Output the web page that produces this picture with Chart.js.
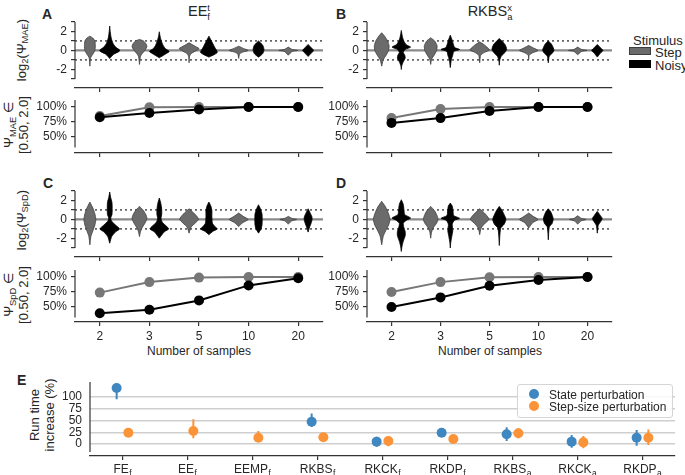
<!DOCTYPE html>
<html>
<head>
<meta charset="utf-8">
<script src="https://cdn.jsdelivr.net/npm/chart.js@4.4.1/dist/chart.umd.min.js"></script>
<style>
body { margin: 0; background: #fff; }
#fig { position: relative; width: 685px; height: 475px; overflow: hidden; font-family: 'Liberation Sans', Arial, sans-serif; color: #262626; }
.box { position: absolute; }
.txt { position: absolute; white-space: nowrap; line-height: 1; }
.rot { position: absolute; white-space: nowrap; transform: translate(-50%, -50%) rotate(-90deg); text-align: center; font-size: 13px; line-height: 1.15; }
.lett { position: absolute; font-weight: bold; font-size: 14px; line-height: 1; }
sub { font-size: 72%; vertical-align: -0.3em; line-height: 0; }
.ss { display: inline-block; font-size: 65%; line-height: 0.95; vertical-align: -0.45em; text-align: left; }
.patch { position: absolute; width: 22px; height: 8px; }
.dot { position: absolute; width: 10px; height: 10px; border-radius: 50%; }
</style>
</head>
<body>
<div id="fig">
  <div class="lett" style="left:42px;top:7px">A</div>
  <div class="lett" style="left:336px;top:7px">B</div>
  <div class="lett" style="left:43px;top:176px">C</div>
  <div class="lett" style="left:336px;top:176px">D</div>
  <div class="lett" style="left:17px;top:373px">E</div>

  <div class="txt" style="left:199px;top:4px;font-size:14.5px;transform:translateX(-50%)">EE<span class="ss">t<br>f</span></div>
  <div class="txt" style="left:490px;top:4px;font-size:14.5px;transform:translateX(-50%)">RKBS<span class="ss">x<br>a</span></div>

  <div class="rot" style="left:22px;top:50px">log<sub>2</sub>(Ψ<sub>MAE</sub>)</div>
  <div class="rot" style="left:17px;top:125px">Ψ<sub>MAE</sub> ∈<br>[0.50, 2.0]</div>
  <div class="rot" style="left:22px;top:220px">log<sub>2</sub>(Ψ<sub>SpD</sub>)</div>
  <div class="rot" style="left:17px;top:295px">Ψ<sub>SpD</sub> ∈<br>[0.50, 2.0]</div>
  <div class="rot" style="left:43px;top:415px">Run time<br>increase (%)</div>

  <div class="txt" style="left:199px;top:345px;font-size:12px;transform:translateX(-50%)">Number of samples</div>
  <div class="txt" style="left:490px;top:345px;font-size:12px;transform:translateX(-50%)">Number of samples</div>

  <div class="txt" style="left:633px;top:34px;font-size:13px">Stimulus</div>
  <div class="patch" style="left:629px;top:47px;background:#6b6b6b;border:1px solid #3d3d3d;box-sizing:border-box"></div>
  <div class="txt" style="left:655px;top:45.5px;font-size:13px">Step</div>
  <div class="patch" style="left:629px;top:60px;background:#000"></div>
  <div class="txt" style="left:655px;top:58.5px;font-size:13px">Noisy</div>

  <div class="box" style="left:517px;top:384px;width:156px;height:34px;border:1px solid #d5d5d5;border-radius:3px;background:rgba(255,255,255,0.85);box-sizing:border-box;z-index:5">
    <div class="dot" style="left:11px;top:4px;background:#3f87c1"></div>
    <div class="txt" style="left:31px;top:4px;font-size:12px">State perturbation</div>
    <div class="dot" style="left:11px;top:16px;background:#fb9438"></div>
    <div class="txt" style="left:31px;top:16px;font-size:12px">Step-size perturbation</div>
  </div>
</div>
<script>
const nSamples = ['2', '3', '5', '10', '20'];
const log2Ticks = [-3, -2, -1, 0, 1, 2, 3];
const pctTicks = [50, 75, 100];

// violin outlines: [log2 value, half width in category units], top to bottom
const violinStepA = [
  [[1.5,0],[1.3,0.06],[1.0,0.1],[0.5,0.11],[0,0.1],[-0.4,0.06],[-0.7,0.02],[-1.0,0.008],[-1.65,0]],
  [[1.16,0],[1.0,0.08],[0.7,0.13],[0.4,0.15],[0.1,0.12],[-0.3,0.06],[-0.6,0.02],[-1.47,0]],
  [[0.8,0],[0.5,0.1],[0.2,0.2],[0,0.15],[-0.3,0.05],[-0.6,0.01],[-1.3,0]],
  [[0.45,0],[0.2,0.1],[0,0.19],[-0.15,0.1],[-0.35,0.02],[-0.84,0]],
  [[0.35,0],[0.1,0.08],[0,0.19],[-0.1,0.08],[-0.5,0]]
];
const violinNoisyA = [
  [[2.56,0],[2.0,0.01],[1.3,0.03],[0.7,0.07],[0.3,0.13],[0.05,0.2],[-0.1,0.19],[-0.4,0.08],[-0.85,0]],
  [[1.96,0],[1.5,0.015],[1.0,0.04],[0.5,0.08],[0.2,0.12],[-0.1,0.2],[-0.3,0.15],[-0.77,0]],
  [[1.5,0],[1.2,0.03],[0.8,0.07],[0.3,0.12],[-0.2,0.17],[-0.4,0.12],[-0.7,0]],
  [[1.0,0],[0.8,0.04],[0.5,0.09],[0.1,0.11],[-0.3,0.09],[-0.55,0.04],[-0.7,0]],
  [[0.63,0],[0.3,0.06],[0,0.11],[-0.3,0.06],[-0.63,0]]
];
const violinStepB = [
  [[1.86,0],[1.5,0.06],[1.0,0.12],[0.5,0.15],[0,0.14],[-0.5,0.09],[-1.0,0.03],[-1.65,0]],
  [[1.33,0],[1.0,0.08],[0.5,0.13],[0,0.12],[-0.5,0.07],[-0.9,0.02],[-1.47,0]],
  [[0.9,0],[0.6,0.09],[0.3,0.16],[0.05,0.2],[-0.2,0.1],[-0.5,0.02],[-1.3,0]],
  [[0.53,0],[0.25,0.1],[0,0.19],[-0.25,0.08],[-0.5,0.01],[-0.95,0]],
  [[0.35,0],[0.1,0.08],[0,0.19],[-0.1,0.08],[-0.45,0]]
];
const violinNoisyB = [
  [[2.1,0],[1.5,0.02],[1.0,0.05],[0.6,0.1],[0.35,0.19],[0.1,0.08],[-0.2,0.04],[-0.5,0.07],[-0.8,0.08],[-1.2,0.04],[-1.6,0.01],[-2.0,0]],
  [[1.6,0],[1.2,0.03],[0.7,0.06],[0.3,0.09],[0.1,0.19],[-0.1,0.07],[-0.5,0.05],[-1.0,0.02],[-1.8,0]],
  [[1.26,0],[1.0,0.05],[0.6,0.12],[0.1,0.15],[-0.3,0.1],[-0.6,0.04],[-1.0,0.01],[-1.55,0]],
  [[1.0,0],[0.7,0.06],[0.3,0.1],[0,0.115],[-0.3,0.08],[-0.6,0.02],[-1.3,0]],
  [[0.63,0],[0.3,0.06],[0,0.115],[-0.3,0.06],[-0.7,0]]
];
const violinStepC = [
  [[1.82,0],[1.2,0.06],[0.6,0.1],[0,0.12],[-0.6,0.1],[-1.2,0.06],[-1.8,0.02],[-2.67,0]],
  [[1.37,0],[1.0,0.07],[0.5,0.13],[0.1,0.15],[-0.4,0.11],[-0.9,0.05],[-1.3,0.02],[-1.8,0]],
  [[1.12,0],[0.7,0.09],[0.3,0.16],[0,0.19],[-0.4,0.12],[-0.8,0.04],[-1.44,0]],
  [[0.67,0],[0.3,0.1],[0,0.19],[-0.35,0.08],[-0.74,0]],
  [[0.32,0],[0.1,0.08],[0,0.17],[-0.15,0.07],[-0.5,0]]
];
const violinNoisyC = [
  [[2.88,0],[2.3,0.02],[1.8,0.045],[1.0,0.05],[0.5,0.045],[0.15,0.02],[-0.2,0.04],[-0.6,0.12],[-1.0,0.2],[-1.3,0.12],[-1.8,0.04],[-2.5,0]],
  [[2.25,0],[1.7,0.03],[1.2,0.045],[0.6,0.05],[0.1,0.035],[-0.3,0.06],[-0.7,0.14],[-1.0,0.19],[-1.3,0.1],[-1.97,0]],
  [[1.82,0],[1.4,0.04],[0.9,0.06],[0.3,0.06],[-0.4,0.07],[-0.8,0.13],[-1.0,0.17],[-1.25,0.08],[-1.6,0]],
  [[1.54,0],[1.1,0.04],[0.6,0.07],[0,0.075],[-0.6,0.07],[-1.0,0.05],[-1.44,0]],
  [[1.12,0],[0.7,0.04],[0.3,0.075],[0,0.08],[-0.4,0.06],[-0.8,0.03],[-1.33,0]]
];
const violinStepD = [
  [[1.9,0],[1.3,0.08],[0.6,0.14],[0,0.17],[-0.6,0.14],[-1.2,0.08],[-1.8,0.03],[-2.67,0]],
  [[1.37,0],[0.9,0.08],[0.4,0.13],[0,0.15],[-0.4,0.12],[-0.9,0.05],[-1.4,0.015],[-1.97,0]],
  [[1.12,0],[0.7,0.09],[0.3,0.16],[0,0.19],[-0.4,0.11],[-0.9,0.03],[-1.6,0]],
  [[0.67,0],[0.3,0.1],[0,0.19],[-0.35,0.08],[-0.9,0]],
  [[0.39,0],[0.1,0.08],[0,0.17],[-0.15,0.07],[-0.5,0]]
];
const violinNoisyD = [
  [[2.07,0],[1.6,0.04],[1.0,0.055],[0.5,0.07],[0.15,0.19],[-0.1,0.1],[-0.4,0.04],[-0.8,0.05],[-1.3,0.08],[-1.7,0.08],[-2.3,0.04],[-2.8,0.015],[-3.37,0]],
  [[1.72,0],[1.4,0.04],[0.9,0.055],[0.4,0.07],[0.12,0.19],[-0.1,0.08],[-0.5,0.04],[-1.2,0.05],[-1.8,0.03],[-2.4,0.01],[-3.0,0]],
  [[1.37,0],[1.0,0.05],[0.5,0.1],[0,0.135],[-0.5,0.1],[-0.9,0.03],[-1.8,0.01],[-2.74,0]],
  [[1.12,0],[0.8,0.05],[0.3,0.09],[0,0.1],[-0.4,0.08],[-0.8,0.02],[-2.14,0]],
  [[0.84,0],[0.5,0.05],[0.1,0.1],[-0.3,0.06],[-0.6,0.02],[-1.44,0]]
];

// share of runs inside [0.5, 2.0] (%)
const fracStepA = [85, 99.5, 100, 100, 100];
const fracNoisyA = [83, 90, 96, 100, 100];
const fracStepB = [81.5, 96.5, 100, 100, 100];
const fracNoisyB = [73.5, 81.5, 93.5, 100, 100];
const fracStepC = [74, 91.5, 99, 100, 100];
const fracNoisyC = [39.5, 45.5, 61, 86, 98];
const fracStepD = [75, 91.5, 99.5, 100, 100];
const fracNoisyD = [50, 66, 85.5, 95, 100];

// panel E: run time increase (%)
const methods = [['FE','f'], ['EE','f'], ['EEMP','f'], ['RKBS','f'], ['RKCK','f'], ['RKDP','f'], ['RKBS','a'], ['RKCK','a'], ['RKDP','a']];
const stateMean = [119, null, null, 47.5, 5, 24, 20.6, 5, 13.4];
const stateLo = [95, null, null, 36, -5.7, 19, 6.4, -7.8, -3.5];
const stateHi = [128, null, null, 65, 15.5, 29, 35.5, 19, 29.8];
const stepMean = [24, 27.7, 13.4, 14.2, 6.4, 10.6, 22.7, 3.5, 13.4];
const stepLo = [21, 12, 5, 10, -4.5, 5, 12, -9, -2];
const stepHi = [27, 52.5, 27.7, 18, 15.5, 16, 33.3, 17, 31];
const runTicks = [0, 25, 50, 75, 100];

Chart.defaults.font.family = "'Liberation Sans', Arial, sans-serif";
Chart.defaults.font.size = 12;
Chart.defaults.color = '#262626';

const FONT = "'Liberation Sans', Arial, sans-serif";
const INK = '#333';

// trimmed left spine
const spine = {
  id: 'spine',
  afterDraw(chart, args, opts) {
    const {ctx, chartArea, scales} = chart;
    const y0 = scales.y.getPixelForValue(opts.from);
    const y1 = scales.y.getPixelForValue(opts.to);
    ctx.save();
    ctx.strokeStyle = INK;
    ctx.lineWidth = 1.2;
    ctx.beginPath();
    ctx.moveTo(chartArea.left, y0);
    ctx.lineTo(chartArea.left, y1);
    ctx.stroke();
    ctx.restore();
  }
};

// category labels with subscripts for panel E
const subLabels = {
  id: 'subLabels',
  afterDraw(chart) {
    const {ctx, chartArea, scales} = chart;
    ctx.save();
    ctx.fillStyle = '#262626';
    ctx.textBaseline = 'alphabetic';
    methods.forEach(([base, sub], i) => {
      const px = scales.x.getPixelForValue(i);
      ctx.font = '12px ' + FONT;
      const w1 = ctx.measureText(base).width;
      ctx.font = '8.5px ' + FONT;
      const w2 = ctx.measureText(sub).width;
      const x0 = px - (w1 + w2 + 0.5) / 2;
      const yb = chartArea.bottom + 17;
      ctx.font = '12px ' + FONT;
      ctx.fillText(base, x0, yb);
      ctx.font = '8.5px ' + FONT;
      ctx.fillText(sub, x0 + w1 + 0.5, yb + 3);
    });
    ctx.restore();
  }
};

function makeCanvas(L, T, R, B, yW, xH) {
  const padT = 10, padR = 6;
  const div = document.createElement('div');
  div.className = 'box';
  div.style.left = (L - yW) + 'px';
  div.style.top = (T - padT) + 'px';
  div.style.width = (R - L + yW + padR) + 'px';
  div.style.height = (B - T + padT + xH) + 'px';
  const c = document.createElement('canvas');
  div.appendChild(c);
  document.getElementById('fig').appendChild(div);
  return {ctx: c.getContext('2d'), padT, padR, yW, xH};
}

function baseOptions(c) {
  return {
    responsive: true,
    maintainAspectRatio: false,
    animation: false,
    layout: {padding: {top: c.padT, right: c.padR, left: 0, bottom: 0}},
    plugins: {legend: {display: false}, tooltip: {enabled: false}}
  };
}

function xScale(c, n, showLabels, labels) {
  return {
    type: 'linear', min: -0.5, max: n - 0.5,
    afterBuildTicks: s => { s.ticks = labels.map((_, i) => ({value: i})); },
    ticks: {display: showLabels, callback: v => labels[v], padding: 3, maxRotation: 0, autoSkip: false},
    grid: {drawOnChartArea: false, drawTicks: true, tickLength: 4, color: INK, lineWidth: 1.2},
    border: {display: true, color: INK, width: 1.2},
    afterFit: s => { s.height = c.xH; s.paddingLeft = 0; s.paddingRight = 0; }
  };
}

function yScale(c, min, max, ticks, fmt, extra) {
  return Object.assign({
    type: 'linear', min, max,
    afterBuildTicks: s => { s.ticks = ticks.map(v => ({value: v})); },
    ticks: {callback: fmt, padding: 4, autoSkip: false},
    grid: {drawOnChartArea: false, drawTicks: true, tickLength: 4, color: INK, lineWidth: 1.2},
    border: {display: false},
    afterFit: s => { s.width = c.yW; s.paddingTop = 0; s.paddingBottom = 0; }
  }, extra || {});
}

function violinSet(profile, pos, fill, edge) {
  const right = profile.map(([y, w]) => ({x: pos + w, y}));
  const left = profile.slice().reverse().map(([y, w]) => ({x: pos - w, y}));
  return {
    data: right.concat(left), showLine: true, fill: 'shape', tension: 0.2,
    backgroundColor: fill, borderColor: edge, borderWidth: 0.8, pointRadius: 0, order: 1
  };
}

function refLine(v, color, dash, width) {
  return {
    data: [{x: -0.5, y: v}, {x: nSamples.length - 0.5, y: v}], showLine: true,
    borderColor: color, borderWidth: width, borderDash: dash, pointRadius: 0, order: 2
  };
}

function violinPanel(L, R, T, B, stepProfiles, noisyProfiles) {
  const c = makeCanvas(L, T, R, B, 60, 6);
  const datasets = [];
  stepProfiles.forEach((p, i) => datasets.push(violinSet(p, i - 0.2, '#6b6b6b', '#3d3d3d')));
  noisyProfiles.forEach((p, i) => datasets.push(violinSet(p, i + 0.2, '#000', '#000')));
  datasets.push(refLine(0, '#8a8a8a', [], 2.2));
  datasets.push(refLine(1, '#666', [2, 3], 1.8));
  datasets.push(refLine(-1, '#666', [2, 3], 1.8));
  const opts = baseOptions(c);
  opts.plugins.spine = {from: 3, to: -3};
  opts.scales = {
    x: xScale(c, nSamples.length, false, nSamples),
    y: yScale(c, -3.95, 3.2, log2Ticks, v => (v % 2 === 0 ? String(v) : ''))
  };
  new Chart(c.ctx, {type: 'scatter', data: {datasets}, options: opts, plugins: [spine]});
}

function fracPanel(L, R, T, B, yMin, stepVals, noisyVals, showLabels) {
  const c = makeCanvas(L, T, R, B, 60, showLabels ? 22 : 6);
  const line = (vals, color) => ({
    data: vals.map((v, i) => ({x: i, y: v})), showLine: true,
    borderColor: color, backgroundColor: color, borderWidth: 2,
    pointRadius: 5, pointBorderWidth: 0, clip: false
  });
  const opts = baseOptions(c);
  opts.plugins.spine = {from: 111.7, to: 32.5};
  opts.scales = {
    x: xScale(c, nSamples.length, showLabels, nSamples),
    y: yScale(c, yMin, 111.7, pctTicks, v => v + '%')
  };
  new Chart(c.ctx, {
    type: 'scatter',
    data: {datasets: [line(noisyVals, '#000'), line(stepVals, '#777')]},
    options: opts, plugins: [spine]
  });
}

violinPanel(75, 323, 20, 88, violinStepA, violinNoisyA);
fracPanel(75, 323, 100, 153, 23.3, fracStepA, fracNoisyA, false);
violinPanel(367, 612, 20, 88, violinStepB, violinNoisyB);
fracPanel(367, 612, 100, 153, 23.3, fracStepB, fracNoisyB, false);
violinPanel(75, 323, 189, 257, violinStepC, violinNoisyC);
fracPanel(75, 323, 270, 322, 25, fracStepC, fracNoisyC, true);
violinPanel(367, 612, 189, 257, violinStepD, violinNoisyD);
fracPanel(367, 612, 270, 322, 25, fracStepD, fracNoisyD, true);

// panel E
(function () {
  const c = makeCanvas(90, 381, 675, 456, 45, 22);
  const off = 0.09;
  const dots = (vals, dx, color) => ({
    data: vals.map((v, i) => ({x: i + dx, y: v})), showLine: false,
    backgroundColor: color, pointRadius: 5, pointBorderWidth: 0, clip: false
  });
  const bars = (lo, hi, dx, color) => ({
    data: lo.flatMap((v, i) => (v == null ? [] : [{x: i + dx, y: v}, {x: i + dx, y: hi[i]}, {x: i + dx, y: null}])),
    showLine: true, spanGaps: false, borderColor: color, borderWidth: 2, pointRadius: 0, clip: false
  });
  const opts = baseOptions(c);
  opts.plugins.spine = {from: 132, to: -17};
  opts.scales = {
    x: xScale(c, methods.length, false, methods),
    y: yScale(c, -25.5, 134, runTicks, v => String(v), {
      grid: {drawOnChartArea: true, drawTicks: false, color: '#cfcfcf', lineWidth: 1.5},
      ticks: {callback: v => String(v), padding: 8, autoSkip: false}
    })
  };
  new Chart(c.ctx, {
    type: 'scatter',
    data: {datasets: [
      dots(stateMean, -off, '#3f87c1'),
      dots(stepMean, off, '#fb9438'),
      bars(stateLo, stateHi, -off, '#3f87c1'),
      bars(stepLo, stepHi, off, '#fb9438')
    ]},
    options: opts, plugins: [spine, subLabels]
  });
})();
</script>
</body>
</html>
